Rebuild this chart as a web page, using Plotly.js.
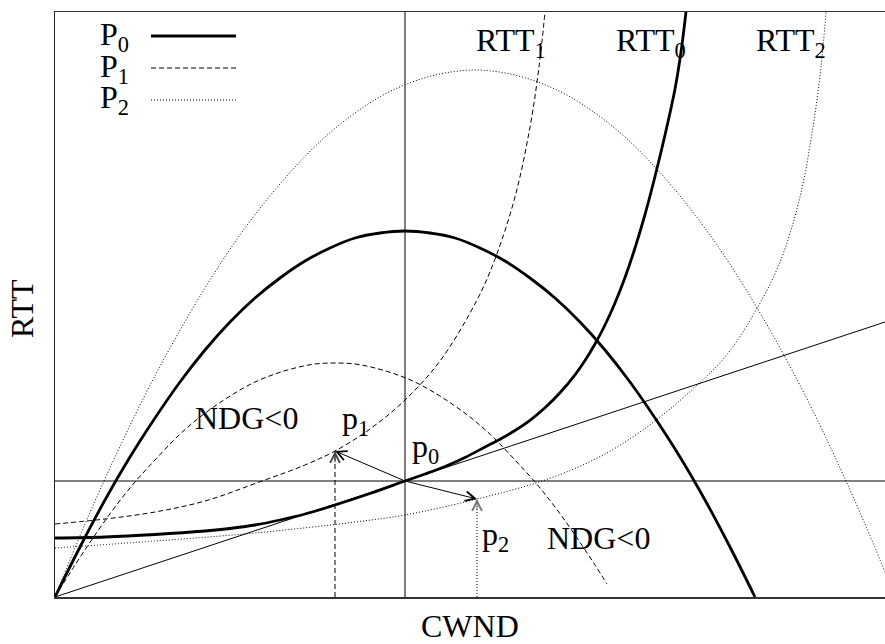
<!DOCTYPE html>
<html>
<head>
<meta charset="utf-8">
<script src="https://cdn.plot.ly/plotly-3.0.1.min.js"></script>
<style>
html, body { margin: 0; padding: 0; background: #ffffff; }
#chart { width: 885px; height: 644px; }
</style>
</head>
<body>
<div id="chart"></div>
<script>
// ---- data (CWND on x, RTT on y, arbitrary units) ----
// P0: power contour through p0 (thick solid)
const p0CurveX = [0, 0.25, 0.5, 0.75, 1.0, 1.25, 1.5, 1.75, 2.0, 2.25, 2.5, 2.75, 3.0, 3.25, 3.5,
                  3.75, 4.0, 4.25, 4.5, 4.75, 5.0, 5.25, 5.5, 5.75, 6.0, 6.25, 6.5, 6.75, 7.0];
const p0CurveY = [0, 0.50, 0.97, 1.40, 1.79, 2.15, 2.47, 2.75, 2.99, 3.19, 3.36, 3.49, 3.59, 3.64, 3.66,
                  3.64, 3.59, 3.49, 3.36, 3.19, 2.99, 2.75, 2.47, 2.15, 1.79, 1.40, 0.97, 0.50, 0];
// P1: power contour (dashed)
const p1CurveX = [0, 0.2, 0.4, 0.6, 0.8, 1.0, 1.2, 1.4, 1.6, 1.8, 2.0, 2.2, 2.4, 2.6, 2.8,
                  3.0, 3.2, 3.4, 3.6, 3.8, 4.0, 4.2, 4.4, 4.6, 4.8, 5.0, 5.2, 5.4, 5.52];
const p1CurveY = [0, 0.32, 0.62, 0.90, 1.15, 1.37, 1.58, 1.76, 1.91, 2.04, 2.15, 2.23, 2.29, 2.33, 2.34,
                  2.33, 2.29, 2.23, 2.15, 2.04, 1.91, 1.76, 1.58, 1.37, 1.15, 0.90, 0.62, 0.32, 0.13];
// P2: power contour (dotted)
const p2CurveX = [0, 0.3, 0.6, 0.9, 1.2, 1.5, 1.8, 2.1, 2.4, 2.7, 3.0, 3.3, 3.6, 3.9, 4.2,
                  4.5, 4.8, 5.1, 5.4, 5.7, 6.0, 6.3, 6.6, 6.9, 7.2, 7.5, 7.8, 8.1, 8.3];
const p2CurveY = [0, 0.73, 1.40, 2.02, 2.58, 3.09, 3.55, 3.95, 4.30, 4.60, 4.84, 5.03, 5.16, 5.24, 5.27,
                  5.24, 5.16, 5.03, 4.84, 4.60, 4.30, 3.95, 3.55, 3.09, 2.58, 2.02, 1.40, 0.73, 0.25];
// RTT0 (thick solid)
const rtt0X = [0, 0.5, 1.0, 1.5, 1.75, 2.0, 2.25, 2.5, 2.8, 3.15, 3.5, 3.7, 3.9, 4.1, 4.3, 4.45, 4.6,
               4.75, 4.9, 5.05, 5.2, 5.3, 5.4, 5.5, 5.6, 5.7, 5.8, 5.9, 6.0, 6.1, 6.2, 6.26, 6.31];
const rtt0Y = [0.59, 0.60, 0.625, 0.66, 0.685, 0.72, 0.77, 0.83, 0.92, 1.035, 1.16, 1.23, 1.305, 1.395, 1.50, 1.578, 1.665,
               1.767, 1.892, 2.042, 2.222, 2.365, 2.53, 2.72, 2.94, 3.195, 3.49, 3.825, 4.205, 4.62, 5.08, 5.45, 5.85];
// RTT1 (dashed)
const rtt1X = [0, 0.5, 1.0, 1.5, 2.07, 2.5, 2.8, 3.15, 3.5, 3.85, 4.22, 4.4, 4.6, 4.75, 4.84, 4.9];
const rtt1Y = [0.73, 0.78, 0.85, 0.96, 1.16, 1.32, 1.46, 1.68, 1.97, 2.36, 2.97, 3.38, 4.00, 4.70, 5.30, 5.85];
// RTT2 (dotted)
const rtt2X = [0, 1.0, 2.0, 3.0, 3.5, 4.22, 4.93, 5.5, 6.0, 6.4, 6.7, 7.0, 7.25, 7.45, 7.58, 7.66, 7.71];
const rtt2Y = [0.49, 0.56, 0.64, 0.75, 0.82, 0.98, 1.18, 1.43, 1.76, 2.10, 2.40, 2.85, 3.35, 4.00, 4.70, 5.30, 5.85];
// straight line from the origin, tangent to RTT0 at p0
const tangentX = [0, 8.3];
const tangentY = [0, 2.75];
// operating points p0, p1, p2
const pointNames = ['p0', 'p1', 'p2'];
const pointX = [3.5, 2.8, 4.22];
const pointY = [1.16, 1.46, 0.98];

const X_RANGE = [0, 8.30];
const Y_RANGE = [0, 5.85];

// ---- styles ----
const FONT = 'Liberation Serif, Times New Roman, serif';
const DASH = '5px,3px';
const DOT = '1px,2px';

function curve(name, x, y, width, dash) {
  return {
    type: 'scatter', mode: 'lines', name: name, x: x, y: y,
    line: { color: '#000000', width: width, dash: dash, shape: 'spline', smoothing: 1 },
    hoverinfo: 'skip', showlegend: false
  };
}

const traces = [
  curve('P0', p0CurveX, p0CurveY, 2.8, 'solid'),
  curve('P1', p1CurveX, p1CurveY, 1, DASH),
  curve('P2', p2CurveX, p2CurveY, 1, DOT),
  curve('RTT0', rtt0X, rtt0Y, 2.8, 'solid'),
  curve('RTT1', rtt1X, rtt1Y, 1, DASH),
  curve('RTT2', rtt2X, rtt2Y, 1, DOT),
  { type: 'scatter', mode: 'lines', name: 'tangent', x: tangentX, y: tangentY,
    line: { color: '#000000', width: 1 }, hoverinfo: 'skip', showlegend: false },
  // vertical guides from the CWND axis up to p1 and p2
  { type: 'scatter', mode: 'lines', name: 'p1 guide', x: [pointX[1], pointX[1]], y: [0, pointY[1]],
    line: { color: '#000000', width: 1, dash: DASH }, hoverinfo: 'skip', showlegend: false },
  { type: 'scatter', mode: 'lines', name: 'p2 guide', x: [pointX[2], pointX[2]], y: [0, pointY[2]],
    line: { color: '#000000', width: 1, dash: DOT }, hoverinfo: 'skip', showlegend: false }
];

const shapes = [
  // cross lines through p0
  { type: 'line', xref: 'x', yref: 'paper', x0: pointX[0], x1: pointX[0], y0: 0, y1: 1,
    line: { color: '#000000', width: 1 } },
  { type: 'line', xref: 'paper', yref: 'y', x0: 0, x1: 1, y0: pointY[0], y1: pointY[0],
    line: { color: '#000000', width: 1 } },
  // key samples
  { type: 'line', xref: 'x', yref: 'y', x0: 0.96, x1: 1.81, y0: 5.61, y1: 5.61,
    line: { color: '#000000', width: 2.8 } },
  { type: 'line', xref: 'x', yref: 'y', x0: 0.96, x1: 1.81, y0: 5.29, y1: 5.29,
    line: { color: '#000000', width: 1, dash: DASH } },
  { type: 'line', xref: 'x', yref: 'y', x0: 0.96, x1: 1.81, y0: 4.97, y1: 4.97,
    line: { color: '#000000', width: 1, dash: DOT } }
];

function label(text, x, y) {
  return { text: text, x: x, y: y, xref: 'x', yref: 'y', xanchor: 'left', yanchor: 'top',
    showarrow: false, font: { family: FONT, size: 32, color: '#000000' } };
}
function arrow(x, y, ax, ay, color, dataRef) {
  const a = { text: '', x: x, y: y, ax: ax, ay: ay, xref: 'x', yref: 'y',
    showarrow: true, arrowhead: 5, arrowsize: 1.9, arrowwidth: 1, arrowcolor: color, standoff: 0 };
  if (dataRef) { a.axref = 'x'; a.ayref = 'y'; }
  return a;
}

const annotations = [
  label('P<sub>0</sub>', 0.43, 5.83),
  label('P<sub>1</sub>', 0.43, 5.51),
  label('P<sub>2</sub>', 0.43, 5.20),
  label('RTT<sub>1</sub>', 4.19, 5.775),
  label('RTT<sub>0</sub>', 5.59, 5.775),
  label('RTT<sub>2</sub>', 6.99, 5.775),
  label('NDG&lt;0', 1.38, 1.995),
  label('p<sub>1</sub>', 2.85, 1.995),
  label('p<sub>0</sub>', 3.55, 1.715),
  label('p<sub>2</sub>', 4.25, 0.835),
  label('NDG&lt;0', 4.90, 0.795),
  // axis titles
  { text: 'CWND', xref: 'paper', yref: 'paper', x: 0.5, y: -0.0499, xanchor: 'center', yanchor: 'middle',
    showarrow: false, font: { family: FONT, size: 32, color: '#000000' } },
  { text: 'RTT', xref: 'paper', yref: 'paper', x: -0.0398, y: 0.494, xanchor: 'center', yanchor: 'middle',
    textangle: -90, showarrow: false, font: { family: FONT, size: 32, color: '#000000' } },
  // arrows from p0 to p1 and p2
  arrow(pointX[1], pointY[1], pointX[0], pointY[0], '#000000', true),
  arrow(pointX[2], pointY[2], pointX[0], pointY[0], '#000000', true),
  // heads of the vertical guides
  arrow(pointX[1], pointY[1], 0, 13, '#444444', false),
  arrow(pointX[2], pointY[2], 0, 13, '#777777', false)
];

const layout = {
  width: 885, height: 644,
  margin: { l: 55, r: 0, t: 12, b: 47, pad: 0 },
  paper_bgcolor: '#ffffff', plot_bgcolor: '#ffffff',
  showlegend: false,
  font: { family: FONT, size: 32, color: '#000000' },
  xaxis: {
    range: X_RANGE, showgrid: false, zeroline: false, showticklabels: false, ticks: '',
    showline: true, mirror: true, linecolor: '#333333', linewidth: 1.5, fixedrange: true
  },
  yaxis: {
    range: Y_RANGE, showgrid: false, zeroline: false, showticklabels: false, ticks: '',
    showline: true, mirror: false, linecolor: '#222222', linewidth: 1.5, fixedrange: true
  },
  shapes: shapes,
  annotations: annotations
};

Plotly.newPlot('chart', traces, layout, { staticPlot: true, displayModeBar: false });
</script>
</body>
</html>
